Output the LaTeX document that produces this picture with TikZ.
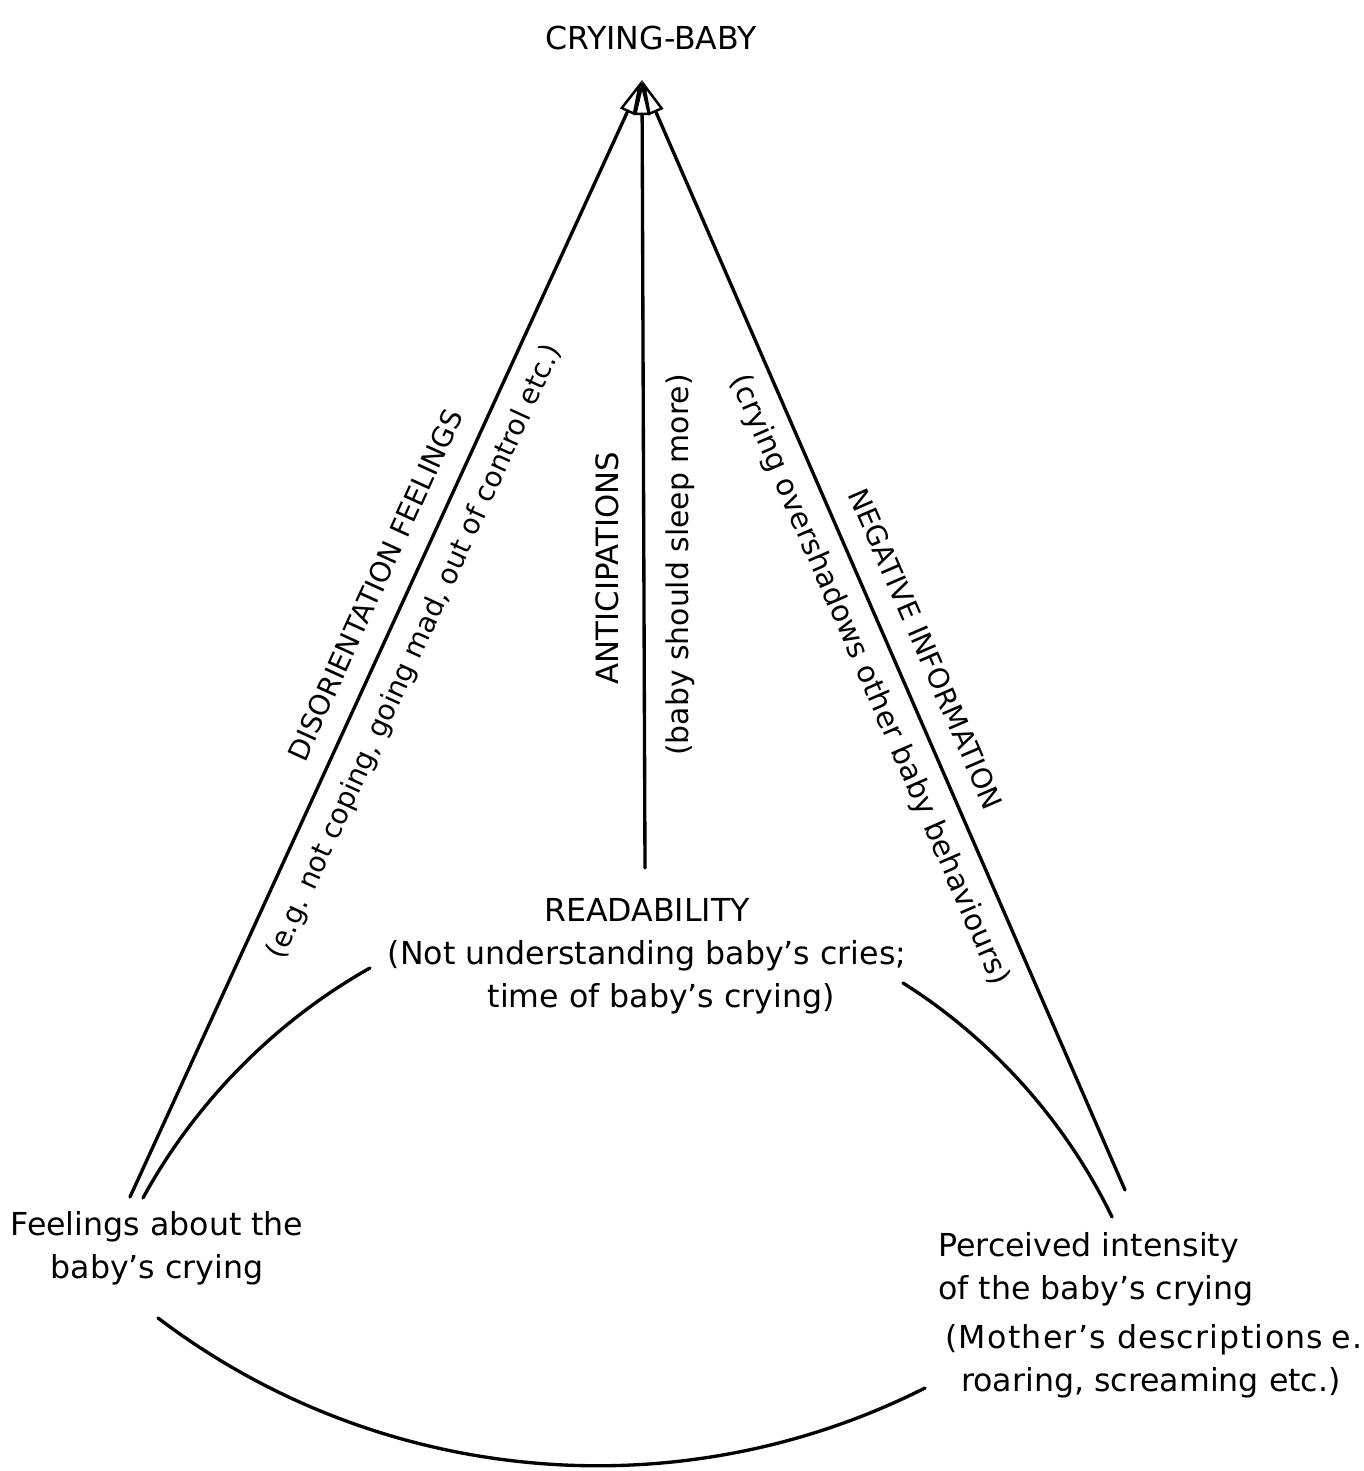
\documentclass[tikz,border=0pt]{standalone}
\usepackage{fontspec}
\setmainfont{DejaVu Sans}
\usetikzlibrary{arrows.meta}
\begin{document}
\begin{tikzpicture}[x=0.02cm,y=0.02cm,
  conn/.style={line width=1.9pt, line cap=round},
  arr/.style={conn, -{Triangle[open, length=20pt, width=9pt, line width=1.4pt]}},
  txt/.style={font=\fontsize{18}{24.5}\selectfont, inner sep=0pt},
  lab/.style={font=\fontsize{16}{20}\selectfont, inner sep=0pt}]
\clip (0,0) rectangle (1364,1471);
\fill[white] (0,0) rectangle (1364,1471);
% nodes
\node[txt] (top) at (651,1433) {CRYING-BABY};
\node[txt, align=center] (read) at (647,515) {READABILITY\\(Not understanding baby's cries;\\\hspace*{0.9em}time of baby's crying)};
\node[txt, align=center] (feel) at (157,223) {Feelings about the\\baby's crying};
\node[txt, align=left, anchor=west] (perc) at (938,202) {Perceived intensity\\of the baby's crying};
\node[txt, align=left, anchor=west] (desc) at (945,110) {{\addfontfeature{LetterSpace=4}(Mother's descriptions\hspace{0.25em}e.g.}\\\hspace*{0.5em}roaring, screaming etc.)};
% coordinates
\coordinate (apex) at (642,1391);
\coordinate (lb) at (130,274);
\coordinate (mb) at (645,603);
\coordinate (rb) at (1125,281);
\coordinate (la1) at (143,273);
\coordinate (la2) at (370,503);
\coordinate (ra1) at (903,488);
\coordinate (ra2) at (1112,254);
\coordinate (ba1) at (158,153);
\coordinate (ba2) at (925,83);
% connectors
\draw[arr] (lb) -- (apex);
\draw[arr] (mb) -- (apex);
\draw[arr] (rb) -- (apex);
\draw[conn] (la1) to[bend left=16, looseness=0.86] (la2);
\draw[conn] (ra1) to[bend left=16, looseness=0.86] (ra2);
\draw[conn] (ba1) to[bend right=32, looseness=0.92] (ba2);
% labels
\node[lab, rotate=65.5] (l1) at (375,886) {DISORIENTATION FEELINGS};
\node[lab, rotate=65.5] (l2) at (415,819) {(e.g. not coping, going mad, out of control etc.)};
\node[lab, rotate=90, font=\fontsize{17.5}{20}\selectfont] (m1) at (607,903) {ANTICIPATIONS};
\node[lab, rotate=90, font=\fontsize{17}{20}\selectfont] (m2) at (680,906) {(baby should sleep more)};
\node[lab, rotate=-66.6] (r1) at (926,822) {NEGATIVE INFORMATION};
\node[lab, rotate=-66.6, font=\fontsize{16.8}{20}\selectfont] (r2) at (869,791) {(crying overshadows other baby behaviours)};
\end{tikzpicture}
\end{document}
